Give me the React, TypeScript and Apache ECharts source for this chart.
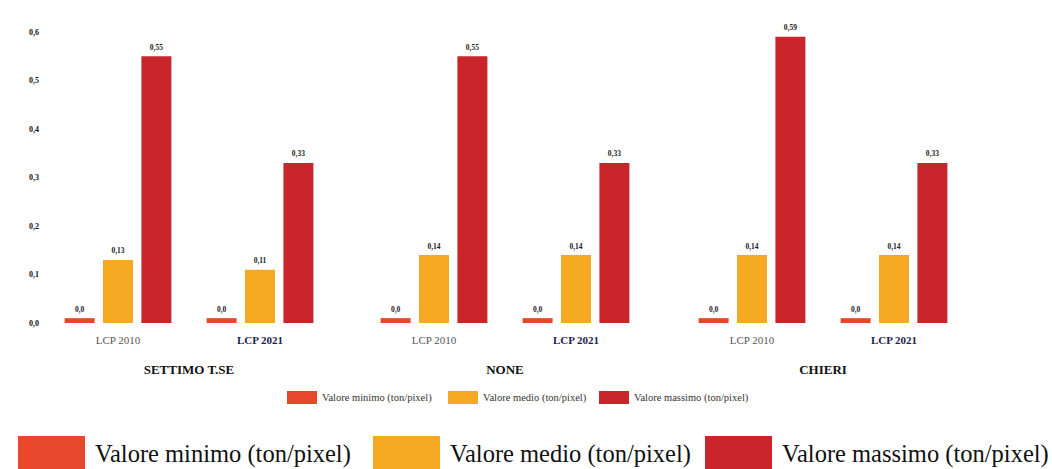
import React, { useEffect, useRef } from "react";
import * as echarts from "echarts";

const locations = ["SETTIMO T.SE", "NONE", "CHIERI"];
const periods = ["LCP 2010", "LCP 2021"];
const seriesNames = [
  "Valore minimo (ton/pixel)",
  "Valore medio (ton/pixel)",
  "Valore massimo (ton/pixel)",
];
// values per location: [LCP 2010, LCP 2021]
const minValues = [
  [0.01, 0.01],
  [0.01, 0.01],
  [0.01, 0.01],
];
const medValues = [
  [0.13, 0.11],
  [0.14, 0.14],
  [0.14, 0.14],
];
const maxValues = [
  [0.55, 0.33],
  [0.55, 0.33],
  [0.59, 0.33],
];
const colors = ["#E8472B", "#F5A821", "#C9252B"];
const gridLefts = [47, 363, 681];
const smallLegendLefts = [287, 448, 599];
const bigLegendLefts = [18, 373, 705];

const SERIF = "'Liberation Serif', 'Times New Roman', serif";

export default function App() {
  const ref = useRef<HTMLDivElement>(null);
  useEffect(() => {
    document.body.style.margin = "0";
    const chart = echarts.init(ref.current!, undefined, { renderer: "svg" });
    const fmt = (d: number) => (v: any) =>
      Number(v.value).toFixed(d).replace(".", ",");
    const grids = gridLefts.map((l) => ({
      left: l,
      width: 284,
      top: 32,
      bottom: 146,
    }));
    const xAxes = locations.map((loc, i) => ({
      type: "category",
      gridIndex: i,
      data: [
        {
          value: periods[0],
          textStyle: { color: "#555", fontWeight: "normal" },
        },
        {
          value: periods[1],
          textStyle: { color: "#1d2150", fontWeight: "bold" },
        },
      ],
      axisLine: { show: false },
      axisTick: { show: false },
      axisLabel: { fontFamily: SERIF, fontSize: 11, margin: 11 },
      name: loc,
      nameLocation: "middle",
      nameGap: 40,
      nameTextStyle: {
        fontFamily: SERIF,
        fontSize: 13,
        fontWeight: "bold",
        color: "#111",
      },
    }));
    const yAxes = locations.map((_, i) => ({
      type: "value",
      gridIndex: i,
      min: 0,
      max: 0.6,
      interval: 0.1,
      show: i === 0,
      splitLine: { show: false },
      axisLine: { show: false },
      axisTick: { show: false },
      axisLabel: {
        fontFamily: SERIF,
        fontSize: 8,
        fontWeight: "bold",
        color: "#111",
        margin: 8,
        formatter: (v: number) => v.toFixed(1).replace(".", ","),
      },
    }));
    const series: any[] = [];
    const groups = [minValues, medValues, maxValues];
    locations.forEach((_, i) => {
      groups.forEach((vals, k) => {
        series.push({
          type: "bar",
          name: seriesNames[k],
          xAxisIndex: i,
          yAxisIndex: i,
          data: vals[i],
          barWidth: 30,
          barGap: "28%",
          itemStyle: { color: colors[k] },
          label: {
            show: true,
            position: "top",
            distance: 5,
            fontFamily: SERIF,
            fontSize: 7.5,
            fontWeight: "bold",
            color: "#222",
            formatter: fmt(k === 0 ? 1 : 2),
          },
        });
      });
    });
    const legends: any[] = [];
    seriesNames.forEach((n, k) => {
      legends.push({
        data: [n],
        left: smallLegendLefts[k],
        top: 391,
        itemWidth: 30,
        itemHeight: 13,
        icon: "rect",
        padding: 0,
        textStyle: { fontFamily: SERIF, fontSize: 10.5, color: "#333" },
      });
      legends.push({
        data: [n],
        left: bigLegendLefts[k],
        top: 436,
        itemWidth: 67,
        itemHeight: 34,
        icon: "rect",
        padding: 0,
        textStyle: {
          fontFamily: SERIF,
          fontSize: 24.5,
          color: "#111",
          padding: [0, 0, 0, 5],
        },
      });
    });
    chart.setOption({
      animation: false,
      backgroundColor: "#ffffff",
      color: colors,
      legend: legends,
      grid: grids,
      xAxis: xAxes,
      yAxis: yAxes,
      series,
    });
    return () => chart.dispose();
  }, []);
  return <div ref={ref} style={{ width: 1052, height: 469 }} />;
}
